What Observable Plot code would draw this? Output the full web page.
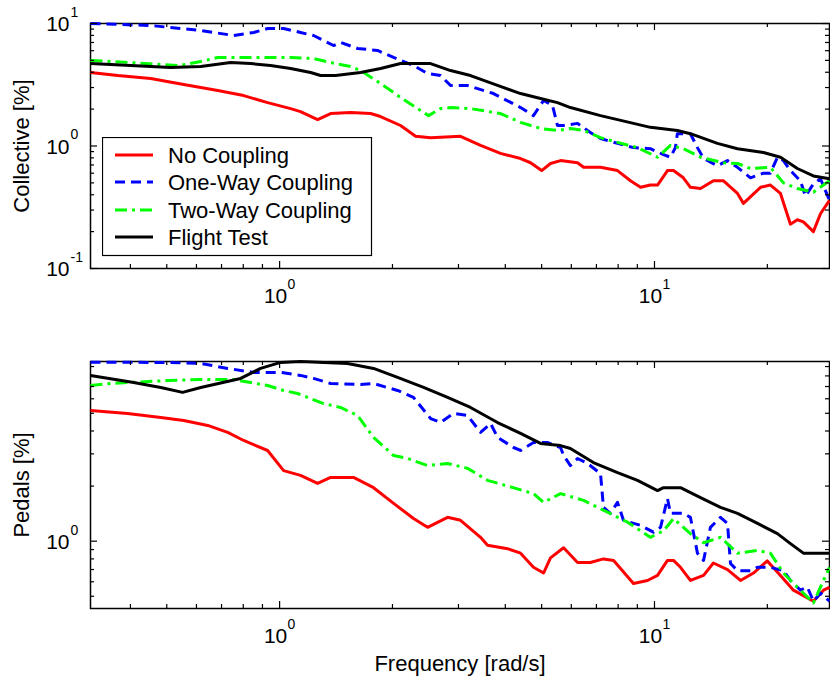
<!DOCTYPE html>
<html><head><meta charset="utf-8">
<script src="https://cdn.jsdelivr.net/npm/d3@7"></script>
<script src="https://cdn.jsdelivr.net/npm/@observablehq/plot@0.6"></script>
<style>
body{margin:0;background:#fff;}
#wrap{position:relative;width:830px;height:682px;overflow:hidden;font-family:"Liberation Sans",Arial,sans-serif;background:#fff;}
#wrap > svg{display:block;}
#legend{position:absolute;left:102px;top:137px;}
</style></head><body><div id="wrap"></div>
<script>
// ---------- tick values ----------
const xMajor = [1, 10];
const xMinor = [0.4,0.5,0.6,0.7,0.8,0.9,2,3,4,5,6,7,8,9,20];
const collYMajor = [0.1, 1, 10];
const collYMinor = [0.2,0.3,0.4,0.5,0.6,0.7,0.8,0.9,2,3,4,5,6,7,8,9];
const pedYMajor = [1];
const pedYMinor = [0.5,0.6,0.7,0.8,0.9,2,3,4,5,6,7,8,9];

const seriesNames = ["No Coupling","One-Way Coupling","Two-Way Coupling","Flight Test"];

// ---------- Collective [%] ----------
const collNoF = [0.313,0.370,0.453,0.555,0.684,0.802,0.929,1.07,1.137,1.263,1.368,1.546,1.749,1.859,2.102,2.305,2.528,3.038,3.436,3.884,4.393,4.671,5.0,5.28,5.615,6.234,6.47,7.178,7.969,8.629,9.18,9.754,10.19,10.83,11.24,11.94,12.47,13.27,14.36,15.28,16.65,17.27,19.18,20.38,21.68,23.05,24.05,24.96,26.54,27.72,29.3];
const collNoV = [3.98,3.76,3.56,3.18,2.84,2.58,2.26,2.02,1.91,1.64,1.84,1.88,1.84,1.74,1.47,1.20,1.17,1.20,1.01,0.87,0.79,0.73,0.63,0.72,0.76,0.73,0.67,0.67,0.63,0.52,0.46,0.48,0.48,0.63,0.63,0.55,0.46,0.45,0.52,0.52,0.41,0.34,0.46,0.48,0.41,0.23,0.25,0.24,0.20,0.28,0.36];

const collOneF = [0.313,0.453,0.616,0.754,0.853,0.929,1.025,1.137,1.232,1.393,1.454,1.615,1.825,2.014,2.276,2.481,2.688,2.858,3.173,3.72,4.393,4.755,5.059,5.346,5.51,5.722,6.234,6.745,7.178,7.969,8.79,9.754,10.57,11.03,11.37,11.51,12.47,13.02,13.52,14.72,15.66,16.65,18.03,19.53,20.38,21.28,22.08,23.05,24.5,25.27,26.54,27.72,29.3];
const collOneV = [10.0,9.63,8.77,7.98,8.45,9.1,9.1,8.45,7.98,6.61,7.0,6.25,6.02,5.28,4.54,3.91,3.76,3.12,3.12,2.68,2.06,1.77,2.35,2.14,1.47,1.47,1.53,1.29,1.15,1.05,0.97,0.95,0.85,0.81,0.97,1.26,1.26,0.97,0.79,0.69,0.76,0.67,0.55,0.60,0.60,0.81,0.76,0.63,0.52,0.39,0.49,0.54,0.36];

const collTwoF = [0.313,0.401,0.482,0.54,0.616,0.684,0.837,1.07,1.232,1.368,1.546,1.644,1.859,2.102,2.377,2.496,2.688,2.858,3.23,3.884,4.393,4.966,5.51,5.967,6.47,7.178,7.969,9.01,10.19,11.03,11.94,13.27,15.28,16.65,18.03,20.38,22.08,24.05,26.54,29.3];
const collTwoV = [4.99,4.80,4.62,4.54,4.89,5.28,5.28,5.28,5.18,4.80,4.46,4.13,3.24,2.49,1.95,1.77,2.02,2.06,2.02,1.84,1.56,1.39,1.34,1.39,1.34,1.17,1.07,0.97,0.81,1.01,0.95,0.81,0.73,0.72,0.655,0.67,0.50,0.45,0.42,0.52];

const collFltF = [0.313,0.401,0.512,0.616,0.74,0.837,0.946,1.07,1.21,1.286,1.41,1.644,1.859,2.102,2.528,2.858,3.23,3.814,4.393,4.966,5.51,5.967,7.178,8.79,9.754,11.51,12.47,14.72,16.65,19.53,21.68,24.05,26.54,29.3];
const collFltV = [4.71,4.54,4.37,4.46,4.80,4.71,4.54,4.29,3.98,3.76,3.76,3.98,4.29,4.71,4.71,4.13,3.76,3.12,2.68,2.44,2.26,2.06,1.77,1.53,1.42,1.34,1.26,1.05,0.95,0.885,0.81,0.655,0.57,0.54];

// ---------- Pedals [%] ----------
const pedNoF = [0.313,0.393,0.482,0.555,0.643,0.727,0.802,0.929,1.025,1.137,1.263,1.368,1.575,1.781,2.014,2.276,2.481,2.806,3.038,3.436,3.586,4.056,4.393,4.755,5.059,5.28,5.722,6.234,6.745,7.31,7.78,8.79,9.58,10.19,10.83,11.24,11.73,12.47,13.52,14.36,15.66,16.96,18.37,20.0,21.68,23.48,26.54,28.24,29.3];
const pedNoV = [5.18,4.99,4.74,4.57,4.29,3.93,3.55,3.13,2.43,2.29,2.07,2.23,2.23,1.96,1.61,1.33,1.19,1.35,1.30,1.05,0.95,0.91,0.86,0.72,0.67,0.81,0.92,0.765,0.765,0.80,0.785,0.587,0.61,0.65,0.785,0.785,0.72,0.61,0.65,0.76,0.70,0.61,0.67,0.78,0.65,0.54,0.47,0.54,0.56];

const pedOneF = [0.313,0.491,0.616,0.727,0.853,1.006,1.137,1.232,1.368,1.644,1.781,2.064,2.276,2.528,2.688,2.911,3.173,3.436,3.654,3.814,4.207,4.393,4.755,5.181,5.615,5.722,5.967,6.234,6.627,7.178,7.31,7.631,7.969,8.265,9.18,9.936,10.38,10.83,11.03,11.94,12.47,13.02,13.52,14.1,15.0,15.66,15.95,16.65,18.03,18.83,20.38,22.08,23.05,24.5,25.58,26.54,27.72,29.3];
const pedOneV = [9.5,9.48,9.36,8.79,8.36,8.36,8.05,7.75,7.27,7.18,7.27,6.66,6.10,4.68,4.45,4.99,4.86,3.93,4.40,3.69,3.25,3.13,3.46,3.46,3.25,2.94,2.59,2.83,2.66,2.34,1.53,1.42,1.63,1.30,1.22,1.12,1.19,1.71,1.42,1.42,1.35,0.86,0.785,1.19,1.35,1.25,0.755,0.69,0.69,0.72,0.72,0.69,0.61,0.54,0.56,0.47,0.52,0.47];

const pedTwoF = [0.313,0.354,0.393,0.503,0.616,0.754,0.837,0.929,1.025,1.117,1.31,1.454,1.615,1.781,2.014,2.194,2.481,2.806,3.173,3.586,4.207,4.755,5.059,5.615,6.47,7.492,8.472,9.754,10.57,11.24,12.47,13.52,15.0,16.65,18.83,20.38,22.08,24.05,26.54,28.24,29.3];
const pedTwoV = [7.09,7.27,7.36,7.55,7.65,7.65,7.36,7.09,6.66,6.41,5.65,5.38,4.86,3.69,2.94,2.83,2.59,2.66,2.50,2.15,1.96,1.82,1.63,1.82,1.67,1.44,1.27,1.05,1.14,1.33,1.10,0.98,1.05,0.86,0.89,0.86,0.67,0.56,0.46,0.61,0.72];

const pedFltF = [0.313,0.408,0.482,0.551,0.616,0.787,0.89,1.006,1.137,1.518,1.781,2.064,2.421,2.806,3.23,3.814,4.393,4.966,5.615,5.967,6.87,7.969,9.01,10.19,10.57,11.73,13.27,15.0,16.65,18.83,21.28,23.05,24.96,27.21,29.3];
const pedFltV = [8.05,7.36,6.92,6.50,6.92,7.75,8.79,9.48,9.6,9.36,8.79,7.85,6.92,6.10,5.38,4.45,3.88,3.42,3.33,3.21,2.69,2.37,2.15,1.89,1.96,1.96,1.73,1.53,1.42,1.25,1.10,0.97,0.86,0.86,0.86];

// ---------- styles ----------
const styles = [
  {stroke:"#ff0000", dash:null},
  {stroke:"#0000ff", dash:"10,6"},
  {stroke:"#00ff00", dash:"12,5,3,5"},
  {stroke:"#000000", dash:null}
];
const FONT = '"Liberation Sans", Arial, sans-serif';
const W = 830, ML = 90, MR = 1, PW = W - ML - MR;
const xDomain = [0.313, 29.3];

const rows = (f, v) => f.map((x, i) => ({f: x, v: v[i]}));
const expText = d => { const e = Math.round(Math.log10(d)); return e < 0 ? "-" + (-e) : String(e); };

function lineMarks(sets) {
  return sets.map((s, i) => Plot.line(s, {
    x: "f", y: "v", stroke: styles[i].stroke, strokeWidth: 3,
    strokeDasharray: styles[i].dash || undefined,
    strokeLinejoin: "round", strokeLinecap: "butt"
  }));
}

function axisMarks(plotH, yMajor, yMinor) {
  const L = 7, l = 4;
  const k = {stroke: "black", strokeWidth: 1.2};
  return [
    Plot.tickX(xMajor, {x: d => d, insetTop: plotH - L, ...k}),
    Plot.tickX(xMajor, {x: d => d, insetBottom: plotH - L, ...k}),
    Plot.tickX(xMinor, {x: d => d, insetTop: plotH - l, ...k}),
    Plot.tickX(xMinor, {x: d => d, insetBottom: plotH - l, ...k}),
    Plot.tickY(yMajor, {y: d => d, insetRight: PW - L, ...k}),
    Plot.tickY(yMajor, {y: d => d, insetLeft: PW - L, ...k}),
    Plot.tickY(yMinor, {y: d => d, insetRight: PW - l, ...k}),
    Plot.tickY(yMinor, {y: d => d, insetLeft: PW - l, ...k}),
    Plot.text(xMajor, {x: d => d, frameAnchor: "bottom", text: () => "10", dx: -4, dy: 28, lineAnchor: "middle", textAnchor: "middle", fontSize: 21, fill: "black"}),
    Plot.text(xMajor, {x: d => d, frameAnchor: "bottom", text: expText, dx: 8, dy: 16, lineAnchor: "middle", textAnchor: "start", fontSize: 14, fill: "black"}),
    Plot.text(yMajor, {y: d => d, frameAnchor: "left", text: () => "10", dx: -21, dy: 1, lineAnchor: "middle", textAnchor: "end", fontSize: 21, fill: "black"}),
    Plot.text(yMajor, {y: d => d, frameAnchor: "left", text: expText, dx: -20, dy: -11, lineAnchor: "middle", textAnchor: "start", fontSize: 14, fill: "black"})
  ];
}

const wrap = document.getElementById("wrap");

// ---------- top panel ----------
const topMT = 23, topPH = 245, topMB = 45;
const collSets = [rows(collNoF, collNoV), rows(collOneF, collOneV), rows(collTwoF, collTwoV), rows(collFltF, collFltV)];
const topPlot = Plot.plot({
  width: W, height: topMT + topPH + topMB,
  marginLeft: ML, marginRight: MR, marginTop: topMT, marginBottom: topMB,
  style: {fontFamily: FONT, background: "white", color: "black", overflow: "visible"},
  x: {type: "log", domain: xDomain, axis: null},
  y: {type: "log", domain: [0.1, 10], axis: null},
  marks: [
    Plot.frame({stroke: "black", strokeWidth: 1.5}),
    ...lineMarks(collSets),
    ...axisMarks(topPH, collYMajor, collYMinor),
    Plot.text([0], {frameAnchor: "left", text: () => "Collective [%]", rotate: -90, dx: -62, lineAnchor: "bottom", textAnchor: "middle", fontSize: 22, fill: "black"})
  ]
});
wrap.appendChild(topPlot);

// ---------- bottom panel ----------
const botMT = 48, botPH = 247, botMB = 74;
const pedSets = [rows(pedNoF, pedNoV), rows(pedOneF, pedOneV), rows(pedTwoF, pedTwoV), rows(pedFltF, pedFltV)];
const botPlot = Plot.plot({
  width: W, height: botMT + botPH + botMB,
  marginLeft: ML, marginRight: MR, marginTop: botMT, marginBottom: botMB,
  style: {fontFamily: FONT, background: "white", color: "black", overflow: "visible"},
  x: {type: "log", domain: xDomain, axis: null},
  y: {type: "log", domain: [0.4287, 9.59], axis: null},
  marks: [
    Plot.frame({stroke: "black", strokeWidth: 1.5}),
    ...lineMarks(pedSets),
    ...axisMarks(botPH, pedYMajor, pedYMinor),
    Plot.text([0], {frameAnchor: "left", text: () => "Pedals [%]", rotate: -90, dx: -62, lineAnchor: "bottom", textAnchor: "middle", fontSize: 22, fill: "black"}),
    Plot.text([0], {frameAnchor: "bottom", text: () => "Frequency [rad/s]", dy: 55, lineAnchor: "middle", textAnchor: "middle", fontSize: 22, fill: "black"})
  ]
});
wrap.appendChild(botPlot);

// ---------- legend ----------
const ns = "http://www.w3.org/2000/svg";
const lg = document.createElementNS(ns, "svg");
lg.setAttribute("id", "legend");
lg.setAttribute("width", 271); lg.setAttribute("height", 120);
const rect = document.createElementNS(ns, "rect");
rect.setAttribute("x", 0.5); rect.setAttribute("y", 0.5);
rect.setAttribute("width", 269); rect.setAttribute("height", 118);
rect.setAttribute("fill", "white"); rect.setAttribute("stroke", "black"); rect.setAttribute("stroke-width", 1.2);
lg.appendChild(rect);
const rowY = [18, 45, 73, 100];
seriesNames.forEach((name, i) => {
  const ln = document.createElementNS(ns, "line");
  ln.setAttribute("x1", 13); ln.setAttribute("x2", 51);
  ln.setAttribute("y1", rowY[i]); ln.setAttribute("y2", rowY[i]);
  ln.setAttribute("stroke", styles[i].stroke); ln.setAttribute("stroke-width", 3);
  if (styles[i].dash) ln.setAttribute("stroke-dasharray", styles[i].dash);
  lg.appendChild(ln);
  const tx = document.createElementNS(ns, "text");
  tx.setAttribute("x", 66); tx.setAttribute("y", rowY[i] + 7.5);
  tx.setAttribute("font-family", FONT); tx.setAttribute("font-size", 22);
  tx.setAttribute("fill", "black");
  tx.textContent = name;
  lg.appendChild(tx);
});
wrap.appendChild(lg);
</script>
</body></html>
